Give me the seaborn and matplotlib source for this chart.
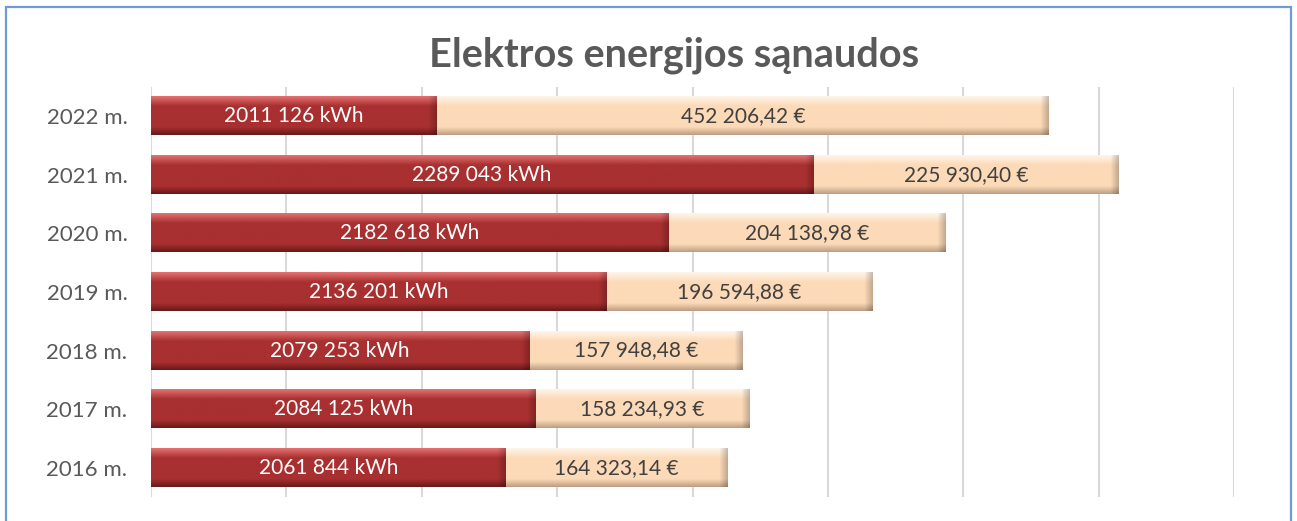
import numpy as np
import pandas as pd
import matplotlib.pyplot as plt
import seaborn as sns
from matplotlib.colors import to_rgba
from matplotlib.patches import Rectangle

# data
years = ["2022 m.", "2021 m.", "2020 m.", "2019 m.", "2018 m.", "2017 m.", "2016 m."]
kwh = [2011126, 2289043, 2182618, 2136201, 2079253, 2084125, 2061844]
eur = [452206.42, 225930.40, 204138.98, 196594.88, 157948.48, 158234.93, 164323.14]

x_min, x_max, x_step = 1800000, 2600000, 100000

RED = "#A83030"
PEACH = "#FCDAB8"
TXT = "#595959"


def fmt_kwh(v):
    return f"{v // 1000} {v % 1000:03d} kWh"


def fmt_eur(v):
    return f"{v:,.2f}".replace(",", " ").replace(".", ",") + " €"


def shade(ax, patch, top, mid, bottom, zorder):
    # fake the excel bevel with a gradient laid over the visible part of the bar
    x0, y0 = patch.get_x(), patch.get_y()
    w, h = patch.get_width(), patch.get_height()
    x0 = max(x0, x_min)
    x1 = patch.get_x() + w
    p0 = ax.transData.transform((x0, y0))
    p1 = ax.transData.transform((x1, y0 + h))
    npx = max(int(abs(p1[0] - p0[0])), 2)
    nrow = 40
    t = np.linspace(0, 1, nrow)[:, None, None]
    ct, cm, cb = (np.array(to_rgba(c)) for c in (top, mid, bottom))
    col = np.where(t < 0.25, ct + (cm - ct) * (t / 0.25),
                   np.where(t < 0.8, cm, cm + (cb - cm) * ((t - 0.8) / 0.2)))
    img = np.repeat(col, npx, axis=1)
    # darker right end
    edge = np.clip((np.arange(npx) - (npx - 9)) / 9, 0, 1)[None, :, None]
    img[..., :3] = img[..., :3] * (1 - 0.25 * edge)
    ax.imshow(img, extent=(x0, x1, y0 + h, y0), origin="upper",
              aspect="auto", zorder=zorder, interpolation="bilinear")


df = pd.DataFrame({"year": years, "kwh": kwh, "eur": eur})
df["total"] = df["kwh"] + df["eur"]

sns.set_style("white")
plt.rcParams["font.family"] = ["Lato", "DejaVu Sans"]

fig = plt.figure(figsize=(12.97, 5.21), dpi=100)
ax = fig.add_axes([151 / 1297, 1 - 497 / 521, (1234 - 151) / 1297, 410 / 521])

sns.barplot(data=df, x="total", y="year", color=PEACH, saturation=1,
            width=0.65, ax=ax, linewidth=0)
n_tot = len(ax.patches)
sns.barplot(data=df, x="kwh", y="year", color=RED, saturation=1,
            width=0.65, ax=ax, linewidth=0)

ax.set_xlim(x_min, x_max)
ax.set_ylim(len(years) - 0.5, -0.5)
for i, p in enumerate(list(ax.patches)):
    if i < n_tot:
        p.set_zorder(2)
        shade(ax, p, "#FFF4E8", PEACH, "#BFA085", 2.1)
    else:
        p.set_zorder(3)
        shade(ax, p, "#E27070", RED, "#6A1A1A", 3.1)
ax.set_xlim(x_min, x_max)
ax.set_ylim(len(years) - 0.5, -0.5)

for i in range(len(years)):
    ax.text((x_min + kwh[i]) / 2, i, fmt_kwh(kwh[i]), ha="center", va="center",
            color="white", fontsize=15, zorder=5)
    ax.text(kwh[i] + eur[i] / 2, i, fmt_eur(eur[i]), ha="center", va="center",
            color="#404040", fontsize=15, zorder=5)

ax.set_xticks(np.arange(x_min, x_max + 1, x_step))
ax.set_xticklabels([])
ax.xaxis.grid(True, color="#D9D9D9", linewidth=1.5)
ax.set_axisbelow(True)
ax.tick_params(axis="both", length=0)
ax.tick_params(axis="y", labelsize=16, labelcolor=TXT, pad=17)
ax.set_xlabel("")
ax.set_ylabel("")
sns.despine(ax=ax, left=True, bottom=True)

fig.text(674 / 1297, 1 - 55 / 521, "Elektros energijos sąnaudos", ha="center",
         va="center", fontsize=28.5, fontweight="bold", color=TXT)

fig.patches.append(Rectangle((5.5 / 1297, -0.1), (1291 - 5.5) / 1297, 1.1 - 7 / 521,
                             transform=fig.transFigure, fill=False,
                             edgecolor="#6F9AD3", linewidth=1.6))

fig.savefig("out.png", dpi=100)
